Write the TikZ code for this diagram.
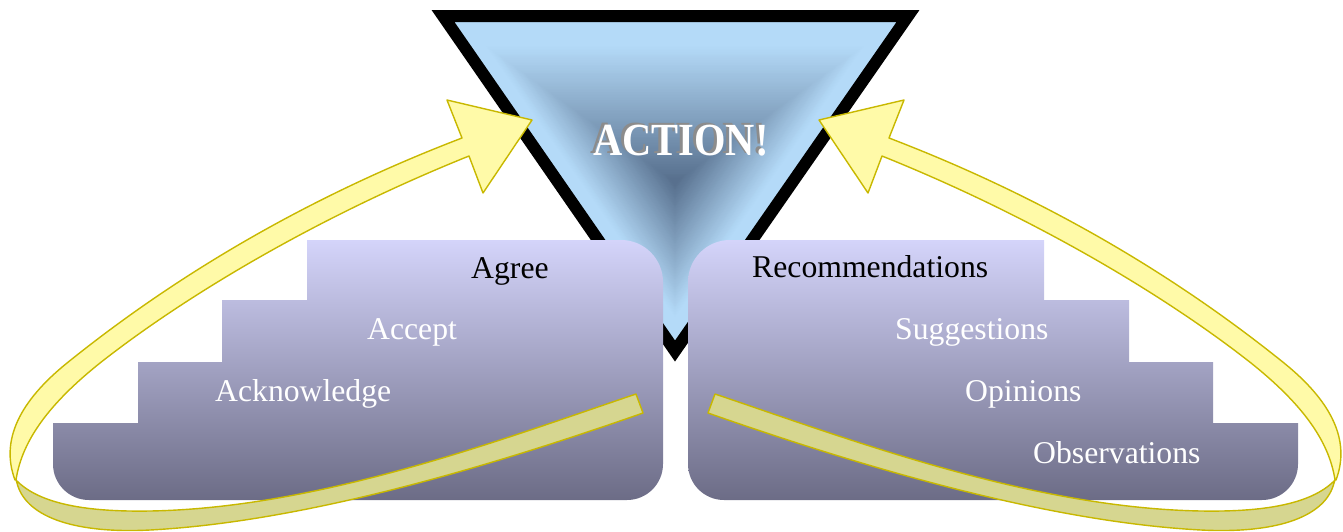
\documentclass[tikz,border=0pt]{standalone}
\usepackage{fontspec}
\setmainfont{Liberation Serif}
\definecolor{stairtop}{RGB}{212,212,250}
\definecolor{stairmid}{RGB}{176,176,212}
\definecolor{stairbot}{RGB}{108,108,134}
\definecolor{trilight}{RGB}{180,218,248}
\definecolor{tridark}{RGB}{86,110,140}
\definecolor{ribyellow}{RGB}{255,250,168}
\definecolor{ribkhaki}{RGB}{214,214,144}
\definecolor{ribedge}{RGB}{200,184,0}
\begin{document}
\begin{tikzpicture}[x=1pt,y=-1pt,
  lbl/.style={font=\fontsize{31.7}{36}\selectfont, anchor=base west, inner sep=0pt},
  ribbon/.style={draw=ribedge, line width=1.4pt, line join=round},
  stair/.style={top color=stairtop, middle color=stairmid, bottom color=stairbot},
  acttext/.style={font=\bfseries\fontsize{46}{50}\selectfont, anchor=base, inner sep=0pt}]
\useasboundingbox (0,0) rectangle (1343,531);
% funnel triangle
\fill[trilight] (443,16) -- (908,16) -- (675,351) -- cycle;
\foreach \i in {0,...,98} {
  \pgfmathsetmacro\s{1-\i/100}
  \pgfmathtruncatemacro\p{min(100,100*\s/0.85)}
  \fill[trilight!\p!tridark, shift={(675,182)}, scale=\s] (-222,-160) -- (222,-160) -- (0,158) -- cycle;
}
\draw[line width=12pt, line join=miter] (443,16) -- (908,16) -- (675,351) -- cycle;
\node[acttext, text=black!45] (actshadow) at (678,153) {\scalebox{0.88}[1]{ACTION!}};
\node[acttext, text=white] (action) at (681,155) {\scalebox{0.88}[1]{ACTION!}};
% staircases
\foreach \sx/\xs in {0/1, 1351/-1} {
  \begin{scope}[xshift=\sx pt, xscale=\xs]
    \shade[stair] (53,423) -- (138,423) -- (138,362) -- (222,362) -- (222,300) -- (307,300) -- (307,240)
      -- (621,240) arc(-90:0:42) -- (663,464) arc(0:90:36) -- (89,500) arc(90:180:36) -- cycle;
  \end{scope}
}
% labels
\node[lbl, text=black] (agree) at (471,278) {Agree};
\node[lbl, text=white] (accept) at (367,339) {Accept};
\node[lbl, text=white] (ack) at (215,401) {Acknowledge};
\node[lbl, text=black] (rec) at (752,277) {Recommendations};
\node[lbl, text=white] (sug) at (895,339) {Suggestions};
\node[lbl, text=white] (opi) at (965,401) {Opinions};
\node[lbl, text=white] (obs) at (1033,463) {Observations};
% ribbon arrows
\foreach \sx/\xs in {0/1, 1351/-1} {
  \begin{scope}[xshift=\sx pt, xscale=\xs]
    \filldraw[ribbon, fill=ribkhaki] (16,480) .. controls (40,505) and (90,512) .. (150,511)
      .. controls (320,508) and (500,440) .. (636,394) -- (643,413)
      .. controls (480,470) and (300,522) .. (150,530)
      .. controls (70,534) and (25,515) .. (17,483) -- cycle;
    \filldraw[ribbon, fill=ribyellow] (15,480) .. controls (0,440) and (20,401) .. (67,363)
      .. controls (170,280) and (300,200) .. (462,138)
      -- (447,100) -- (532,120) -- (483,193) -- (469,156)
      .. controls (310,220) and (180,300) .. (100,363)
      .. controls (50,403) and (22,440) .. (16,480) -- cycle;
  \end{scope}
}
\end{tikzpicture}
\end{document}
